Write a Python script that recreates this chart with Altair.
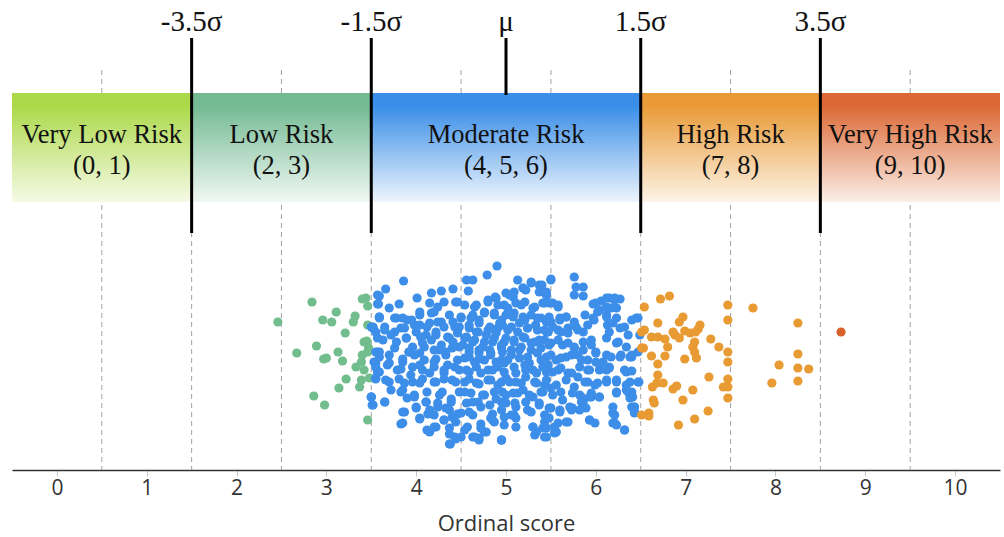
import altair as alt
import pandas as pd

# ---------------- data ----------------
band_names = ["Very Low Risk", "Low Risk", "Moderate Risk", "High Risk", "Very High Risk"]
band_scores = ["(0, 1)", "(2, 3)", "(4, 5, 6)", "(7, 8)", "(9, 10)"]
band_start = [-0.5, 1.5, 3.5, 6.5, 8.5]
band_end = [1.5, 3.5, 6.5, 8.5, 10.5]
band_top_colors = ["#acd94a", "#74bb94", "#3a8ee8", "#e99a36", "#dc6935"]
band_bottom_colors = ["#f6faE6", "#f1f8f4", "#eef5fd", "#fdf4e8", "#fbefe8"]

sigma_labels = ["-3.5σ", "-1.5σ", "μ", "1.5σ", "3.5σ"]
sigma_pos = [1.5, 3.5, 5.0, 6.5, 8.5]
boundary_pos = [1.5, 3.5, 6.5, 8.5]
grid_pos = [0.5, 1.5, 2.5, 3.5, 4.5, 5.5, 6.5, 7.5, 8.5, 9.5]
tick_values = list(range(0, 11))

# scatter: ordinal score (x) and vertical jitter (y)
green_x = [2.84, 2.46, 3.40, 3.46, 3.11, 2.96, 3.06, 3.32, 3.30, 3.21, 3.46, 2.67, 2.89, 2.97,
           3.00, 3.13, 3.18, 3.42, 3.47, 3.40, 3.46, 3.39, 3.33, 3.42, 3.22, 3.39, 3.37, 3.48,
           3.14, 2.86, 2.98, 3.46, 3.44, 3.45]
green_y = [53, 33, 56, 49, 43, 35, 33, 39, 33, 22, 30, 2, 9, -4,
           -3, 3, -6, 13, 7, 0, 3, -7, -12, -15, -24, -25, -32, -23,
           -33, -41, -50, -65, 57, 14]

blue_x = [
    3.86, 3.66, 3.59, 3.58, 3.70, 3.81, 4.01, 4.17, 4.28, 4.41, 4.15, 4.31, 3.59, 3.78, 3.90,
    4.04, 4.20, 4.37, 3.50, 3.65, 3.83, 3.98, 4.12, 4.28, 4.43, 3.57, 3.72, 3.89, 4.05, 4.22,
    4.37, 3.59, 3.76, 3.92, 4.09, 4.26, 4.40, 3.53, 3.70, 3.85, 4.04, 4.20, 4.35, 3.59, 3.79,
    3.94, 4.15, 4.31, 3.55, 3.70, 3.87, 4.04, 4.22, 4.40, 3.72, 3.83, 3.98, 4.12, 4.29, 3.50,
    3.65, 3.90, 4.11, 4.24, 4.39, 3.51, 4.00, 4.15, 4.33, 3.87, 4.04, 4.20, 4.40, 3.85, 4.31,
    4.12, 4.22, 4.37, 4.43, 4.38,
    3.57, 3.57, 3.59, 3.52, 3.55, 3.57, 3.55, 3.57, 3.55, 3.50, 3.52,
    4.90, 4.79, 4.56, 4.63, 4.58, 5.13, 5.28, 5.40, 5.19, 5.22, 5.04, 5.08, 5.37, 5.45, 4.80,
    4.89, 4.46, 4.54, 4.65, 5.02, 5.17, 5.32, 5.43, 4.76, 4.87, 4.50, 4.61, 4.70, 4.95, 5.08,
    5.21, 5.35, 5.45,
    4.48, 4.59, 4.69, 4.80, 4.91, 5.02, 5.13, 5.24, 5.35, 5.45,
    4.54, 4.65, 4.76, 4.87, 4.98, 5.09, 5.21, 5.32, 5.43,
    4.48, 4.59, 4.70, 4.83, 4.95, 5.06, 5.17, 5.28, 5.39,
    4.54, 4.65, 4.76, 4.89, 5.02, 5.15, 5.26, 5.39,
    4.48, 4.59, 4.72, 4.85, 4.98, 5.11, 5.22, 5.34, 5.45,
    4.54, 4.67, 4.80, 4.91, 5.04, 5.17, 5.32, 5.43,
    4.48, 4.61, 4.74, 4.87, 5.00, 5.13, 5.26, 5.39,
    4.56, 4.69, 4.82, 4.95, 5.10, 5.22, 5.37,
    4.50, 4.63, 4.83, 4.87, 5.06, 5.11, 5.28, 5.43,
    4.57, 4.72, 4.98, 5.11, 5.30, 5.41,
    4.50, 4.63, 4.70, 5.32, 5.43, 4.95, 4.76,
    5.50, 5.76, 5.78, 5.86, 5.76, 5.86, 5.45, 5.48, 5.58, 5.97, 6.06, 6.15, 6.21, 6.27, 6.12,
    6.23, 5.88, 6.02, 6.12, 6.45, 5.50, 5.60, 5.67, 5.76, 5.91, 5.98, 6.13, 6.19, 6.32, 5.47,
    5.58, 5.69, 5.80, 5.95, 6.12, 6.23, 6.28, 6.38, 6.47, 5.50, 5.63, 5.76, 5.86, 6.00, 6.12,
    6.00, 5.50, 5.61, 5.73, 5.84, 5.47, 5.58, 5.69, 5.80, 5.91, 6.04, 6.15, 6.32, 6.47, 5.91,
    6.02, 6.12, 6.23, 6.34, 6.36, 5.50, 5.61, 5.82, 5.86, 5.95, 6.04, 6.23, 6.38, 6.43, 5.50,
    5.60, 5.74, 5.89, 6.19, 6.43, 5.48, 5.58, 5.69, 5.93, 5.99, 6.19, 6.23, 6.32, 5.45, 5.56,
    5.45,
    6.49, 6.40, 6.47, 6.40, 6.48, 6.40, 6.43, 6.43,
]
blue_y = [
    74, 66, 59, 51, 47, 51, 57, 62, 64, 66, 52, 53, 37, 37, 35,
    40, 43, 40, 28, 28, 27, 30, 28, 33, 28, 17, 20, 17, 18, 20,
    17, 3, 7, 3, 8, 5, 7, -7, -8, -7, -10, -7, -10, -17, -15,
    -20, -18, -18, -23, -27, -28, -28, -27, -25, -35, -37, -40, -37, -37, -42,
    -47, -43, -47, -48, -47, -50, -53, -55, -53, -57, -63, -60, -62, -68, -65,
    -75, -72, -73, -82, -89,
    60, 51, 38, 28, 23, 3, -8, -17, -24, -42, -50,
    89, 80, 75, 75, 64, 75, 73, 70, 67, 65, 60, 58, 63, 60, 55,
    57, 53, 50, 48, 47, 50, 48, 52, 43, 42, 38, 37, 35, 35, 38,
    35, 37, 33,
    28, 27, 23, 25, 27, 25, 23, 27, 25, 23,
    17, 15, 13, 17, 13, 15, 17, 13, 15,
    8, 7, 5, 2, 7, 5, 8, 5, 7,
    -3, -7, -5, -7, -5, -3, -8, -5,
    -15, -17, -18, -15, -17, -18, -15, -18, -17,
    -27, -28, -25, -30, -27, -28, -27, -30,
    -37, -38, -40, -37, -40, -38, -40, -37,
    -48, -47, -50, -47, -48, -47, -50,
    -58, -60, -63, -67, -60, -63, -57, -60,
    -72, -73, -70, -72, -72, -73,
    -82, -82, -83, -80, -82, -85, -77,
    76, 78, 68, 68, 60, 59, 60, 52, 50, 51, 54, 57, 57, 56, 48,
    47, 40, 43, 40, 37, 33, 37, 38, 33, 30, 35, 30, 32, 28, 23,
    25, 22, 25, 15, 17, 12, 0, -2, 3, 12, 10, 8, 5, 3, 0,
    -7, 0, -3, 0, -5, -10, -15, -18, -22, -15, -15, -13, -15, -27, -27,
    -28, -27, -27, -30, -37, -33, -37, -40, -47, -42, -42, -37, -43, -52, -53,
    -55, -53, -53, -58, -57, -63, -68, -67, -65, -68, -68, -70, -75, -73, -77,
    -82,
    20, -2, 37, -16, -27, -37, -52, -58,
]

# more blue points read from the dense core
blue_x_more = [
    4.24, 4.44, 4.04, 4.17, 4.67, 4.80, 4.88, 4.91, 4.76, 4.87, 4.63,
    3.59, 3.76, 3.85, 3.95, 4.04, 4.15, 4.24, 4.31, 4.41, 4.50, 4.59, 4.70, 4.82, 4.93,
    3.52, 3.65, 3.76, 3.87, 4.00, 4.11, 4.22, 4.35, 4.46, 4.56, 4.67, 4.78, 4.89,
    3.63, 3.78, 3.89, 3.96, 4.07, 4.17, 4.28, 4.41, 4.52, 4.63, 4.74, 4.85, 4.95,
    3.55, 3.92, 4.04, 4.20, 4.33, 4.59, 4.70, 4.82,
    3.59, 3.70, 3.85, 3.98, 4.09, 4.22, 4.33, 4.46, 4.59, 4.70, 4.83, 4.95,
    3.55, 3.68, 3.83, 3.96, 4.07, 4.20, 4.31, 4.43, 4.56, 4.67, 4.80, 4.91,
    3.66, 3.81, 3.96, 4.07, 4.20, 4.31, 4.44, 4.59, 4.70, 4.83, 4.95,
    3.50, 3.65, 3.85, 3.98, 4.11, 4.26, 4.39, 4.54, 4.63, 4.76, 4.89,
    3.85, 4.00, 4.13, 4.24, 4.37, 4.46, 4.59, 4.72, 4.85, 4.95,
    3.83, 4.04, 4.20, 4.31, 4.44, 4.72, 4.85,
    4.15, 4.37, 4.54, 4.65, 4.78,
    4.37, 4.44, 4.70, 4.95,
    5.00, 5.09, 5.19, 5.28, 5.37, 5.45, 5.50,
    4.98, 5.11, 5.21, 5.30, 5.41, 5.52, 5.58,
    5.00, 5.09, 5.19, 5.28, 5.39, 5.48, 5.60, 5.67,
    4.96, 5.06, 5.15, 5.24, 5.33, 5.43, 5.52, 5.61, 5.69, 5.78, 5.86,
    5.00, 5.09, 5.19, 5.28, 5.37, 5.48, 5.58, 5.69, 5.76, 5.86, 5.95,
    4.96, 5.06, 5.15, 5.24, 5.35, 5.45, 5.56, 5.67, 5.80, 5.91, 6.00,
    4.98, 5.09, 5.21, 5.30, 5.41, 5.52, 5.61, 5.73, 5.82, 5.93, 6.04, 6.15,
    5.00, 5.11, 5.22, 5.34, 5.45, 5.56, 5.67, 5.76, 5.88, 5.99, 6.12,
    4.96, 5.08, 5.19, 5.30, 5.41, 5.52, 5.63, 5.74, 5.84, 5.95, 6.04,
    5.00, 5.11, 5.24, 5.37, 5.48, 5.60, 5.71, 5.82,
    4.98, 5.09, 5.30, 5.34, 5.43, 5.54, 5.67, 5.93, 6.21, 6.21, 6.32,
    4.95, 5.54,
    6.12, 6.21, 6.17, 6.00, 6.04, 5.97, 6.12, 6.23, 6.40, 6.27, 6.15, 6.36, 6.25, 6.34, 6.27,
    6.40, 6.17, 6.08, 6.12, 6.34, 6.23, 6.38, 6.34, 6.41, 6.23, 6.40, 6.19, 5.93, 5.84, 5.73,
]
blue_y_more = [
    48, 53, 43, 42, 50, 53, 58, 50, 42, 40, 40,
    38, 37, 37, 35, 30, 32, 33, 28, 33, 37, 30, 32, 28, 32,
    27, 25, 23, 27, 23, 20, 23, 18, 22, 18, 23, 20, 22,
    15, 13, 17, 8, 12, 15, 10, 13, 10, 13, 8, 13, 10,
    3, 3, 2, 5, 3, 3, 2, 5,
    -2, 0, -4, 0, -5, -4, 0, -5, -2, -4, 0, -5,
    -12, -10, -14, -12, -15, -12, -15, -12, -15, -12, -15, -12,
    -25, -24, -27, -24, -27, -24, -27, -24, -29, -25, -27,
    -42, -47, -35, -42, -47, -40, -44, -37, -47, -40, -44,
    -57, -52, -59, -52, -55, -59, -57, -52, -59, -55,
    -69, -64, -72, -65, -67, -69, -65,
    -77, -79, -75, -82, -77,
    -89, -84, -85, -85,
    62, 63, 67, 72, 70, 63, 75,
    50, 52, 53, 47, 52, 52, 48,
    40, 42, 38, 40, 37, 38, 35, 38,
    30, 28, 32, 27, 30, 25, 28, 23, 27, 28, 23,
    17, 13, 18, 12, 15, 10, 15, 12, 7, 13, 10,
    3, 0, 5, -2, 2, -2, -5, -2, 0, -5, 2,
    -8, -12, -10, -15, -12, -17, -13, -18, -12, -15, -10, -12,
    -23, -27, -22, -28, -25, -30, -25, -32, -27, -30, -25,
    -37, -38, -35, -42, -37, -40, -45, -38, -42, -38, -42,
    -48, -52, -55, -48, -53, -57, -52, -55,
    -62, -60, -72, -77, -67, -72, -67, -65, -60, -68, -75,
    -85, -78,
    57, 55, 47, 52, 45, 37, 38, 37, 35, 27, 23, 20, 13, 8, -2,
    0, -2, -7, -15, -17, -25, -27, -35, -42, -38, -52, -52, -42, -47, -55,
]

orange_x = [6.54, 6.72, 6.82, 7.47, 7.75, 6.97, 6.93, 6.69, 6.54, 6.62, 6.69, 6.77, 6.86, 6.88,
            6.93, 6.99, 7.05, 7.11, 7.16, 7.14, 7.47, 8.25, 7.28, 6.53, 6.62, 6.80, 6.77, 7.08,
            7.10, 7.10, 7.12, 6.99, 7.37, 7.47, 7.47, 6.69, 6.69, 8.25, 8.04, 8.25, 8.37, 7.26,
            7.47, 7.96, 8.25, 6.63, 6.68, 6.75, 6.86, 6.90, 7.08, 7.42, 7.47, 7.47, 6.97, 6.64,
            6.65, 6.59, 6.59, 7.25, 7.10, 6.92, 6.51, 6.51, 6.51]
orange_y = [48, 56, 59, 50, 47, 38, 33, 32, 25, 18, 18, 16, 23, 20,
            17, 24, 22, 23, 30, 26, 35, 32, 16, 7, -1, 8, -1, 8,
            13, 3, -3, -4, 8, 3, -7, -9, -20, 1, -10, -13, -14, -22,
            -24, -28, -26, -32, -28, -28, -34, -31, -35, -32, -32, -43, -45, -45,
            -48, -58, -61, -56, -64, -70, 23, 7, -60]

red_x = [8.73]
red_y = [23]

# ---------------- build tables ----------------
pts = pd.concat([
    pd.DataFrame({"score": green_x, "jitter": green_y, "grp": "Low"}),
    pd.DataFrame({"score": blue_x + blue_x_more, "jitter": blue_y + blue_y_more, "grp": "Moderate"}),
    pd.DataFrame({"score": orange_x, "jitter": orange_y, "grp": "High"}),
    pd.DataFrame({"score": red_x, "jitter": red_y, "grp": "Very High"}),
], ignore_index=True)

bands = pd.DataFrame({"name": band_names, "scores": band_scores,
                      "x0": band_start, "x1": band_end,
                      "mid": [(a + b) / 2 for a, b in zip(band_start, band_end)]})
sig = pd.DataFrame({"label": sigma_labels, "pos": sigma_pos})
bnd = pd.DataFrame({"pos": boundary_pos})
grid = pd.DataFrame({"pos": grid_pos})

xscale = alt.Scale(domain=[-0.5, 10.5], nice=False, zero=False)
yscale = alt.Scale(domain=[-115, 355], nice=False, zero=False)

x_axis = alt.Axis(values=tick_values, grid=False, domainColor="#333333", domainWidth=1.5,
                  tickColor="#c8c8c8", tickSize=6, labelFont="Open Sans", labelFontSize=21,
                  labelColor="#333333", labelPadding=1, title="Ordinal score",
                  titleFont="Open Sans", titleFontSize=22, titleFontWeight="normal",
                  titleColor="#333333", titlePadding=15)


def xenc(field):
    return alt.X(field, scale=xscale, axis=x_axis)


grid_layer = alt.Chart(grid).mark_rule(color="#a0a0a0", strokeWidth=1, strokeDash=[5, 4]).encode(
    x=xenc("pos:Q"), y=alt.value(70), y2=alt.value(470))

band_layers = []
for i in range(len(band_names)):
    grad = alt.LinearGradient(gradient="linear", x1=0, y1=0, x2=0, y2=1, stops=[
        alt.GradientStop(color=band_top_colors[i], offset=0),
        alt.GradientStop(color=band_top_colors[i], offset=0.12),
        alt.GradientStop(color=band_bottom_colors[i], offset=1)])
    band_layers.append(
        alt.Chart(bands.iloc[[i]]).mark_rect(fill=grad).encode(
            x=xenc("x0:Q"), x2="x1:Q",
            y=alt.value(93), y2=alt.value(202)))

name_layer = alt.Chart(bands).mark_text(font="Liberation Serif", fontSize=26.5, color="#111111",
                                         align="center", baseline="alphabetic").encode(
    x=xenc("mid:Q"), y=alt.value(143), text="name:N")
score_layer = alt.Chart(bands).mark_text(font="Liberation Serif", fontSize=26.5, color="#111111",
                                          align="center", baseline="alphabetic").encode(
    x=xenc("mid:Q"), y=alt.value(174), text="scores:N")

bound_layer = alt.Chart(bnd).mark_rule(color="#000000", strokeWidth=3).encode(
    x=xenc("pos:Q"), y=alt.value(38), y2=alt.value(233))
mu_layer = alt.Chart(pd.DataFrame({"pos": [5.0]})).mark_rule(color="#000000", strokeWidth=3).encode(
    x=xenc("pos:Q"), y=alt.value(38), y2=alt.value(95))
sig_layer = alt.Chart(sig).mark_text(font="Liberation Serif", fontSize=29, color="#111111",
                                      align="center", baseline="alphabetic").encode(
    x=xenc("pos:Q"), y=alt.value(31), text="label:N")

pts_layer = alt.Chart(pts).mark_circle(size=85, opacity=1).encode(
    x=xenc("score:Q"),
    y=alt.Y("jitter:Q", scale=yscale, axis=None),
    color=alt.Color("grp:N", legend=None,
                    scale=alt.Scale(domain=["Low", "Moderate", "High", "Very High"],
                                    range=["#72bd8e", "#3d8ee9", "#e89a33", "#d9612c"])))

chart = alt.layer(grid_layer, *band_layers, name_layer, score_layer, bound_layer, mu_layer,
                  sig_layer, pts_layer).properties(
    width=988, height=470,
    autosize=alt.AutoSizeParams(type="none"),
    padding={"left": 12, "top": 0, "right": 4, "bottom": 67},
    background="white",
).configure_view(stroke=None)

chart.save("out.html", embed_options={"renderer": "svg", "actions": False})
